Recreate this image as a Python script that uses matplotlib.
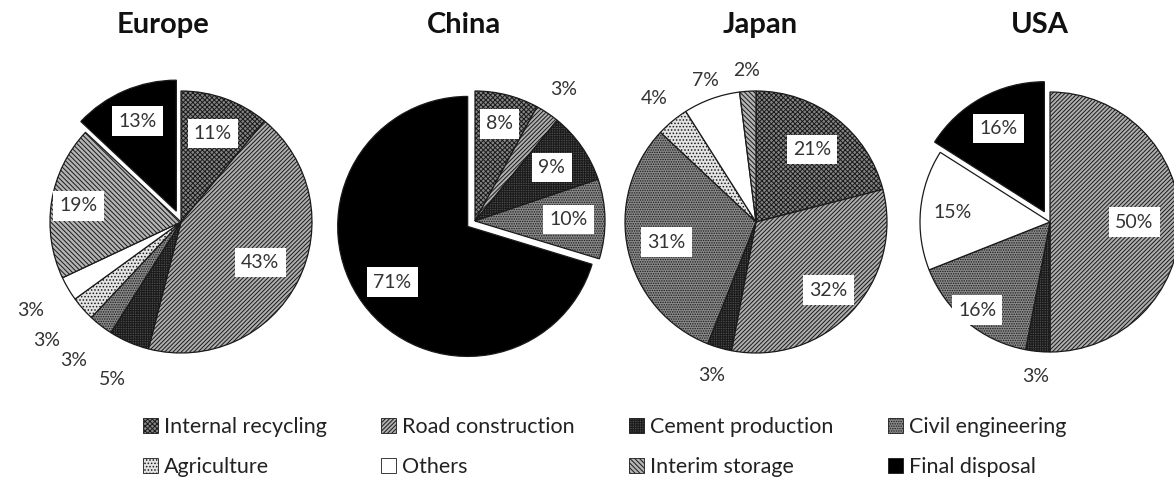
import matplotlib.pyplot as plt
from matplotlib.patches import Patch
import numpy as np

categories = ['Internal recycling', 'Road construction', 'Cement production',
              'Civil engineering', 'Agriculture', 'Others',
              'Interim storage', 'Final disposal']

regions = ['Europe', 'China', 'Japan', 'USA']

# share of each category in %, in category order (0 = not present)
europe = [11, 43, 5, 3, 3, 3, 19, 13]
china = [8, 3, 9, 10, 0, 0, 0, 71]
japan = [21, 32, 3, 31, 4, 7, 2, 0]
usa = [0, 50, 3, 16, 0, 15, 0, 16]

# fill style per category: face, hatch
styles = {
    'Internal recycling': ('#858585', 'xxxxxxx'),
    'Road construction': ('#afafaf', '////////'),
    'Cement production': ('#4a4a4a', '+++++++'),
    'Civil engineering': ('#8a8a8a', '.......'),
    'Agriculture': ('#e4e4e4', '.....'),
    'Others': ('white', ''),
    'Interim storage': ('#b4b4b4', '\\\\\\\\\\\\\\'),
    'Final disposal': ('black', ''),
}

W, H = 1174, 484
plt.rcParams['font.family'] = ['Lato', 'DejaVu Sans']
plt.rcParams['hatch.linewidth'] = 0.7

fig = plt.figure(figsize=(W / 100, H / 100), dpi=100)

# pie layout in pixels: centre x, centre y (from top), radius
layout = {
    'Europe': (181, 222, 131),
    'China': (475, 221, 130),
    'Japan': (756, 222, 131),
    'USA': (1050, 222, 130),
}
explode_amt = {'Europe': 0.09, 'China': 0.07, 'Japan': 0.0, 'USA': 0.09}
title_x = {'Europe': 163, 'China': 464, 'Japan': 760, 'USA': 1040}

# label distance as a fraction of the radius; > 1 means no box
label_dist = {
    'Europe': [0.72, 0.68, 1.31, 1.34, 1.37, 1.33, 0.79, 0.75],
    'China': [0.77, 1.22, 0.72, 0.72, 0, 0, 0, 0.72],
    'Japan': [0.70, 0.76, 1.22, 0.70, 1.22, 1.15, 1.16, 0],
    'USA': [0, 0.65, 1.19, 0.88, 0, 0.75, 0, 0.73],
}

data = {'Europe': europe, 'China': china, 'Japan': japan, 'USA': usa}
h = 180

for region in regions:
    cx, cy, r = layout[region]
    ax = fig.add_axes([(cx - h) / W, 1 - (cy + h) / H, 2 * h / W, 2 * h / H])
    vals = data[region]
    idx = [i for i, v in enumerate(vals) if v > 0]
    sizes = [vals[i] for i in idx]
    explode = [explode_amt[region] if categories[i] == 'Final disposal' else 0
               for i in idx]
    wedges, _ = ax.pie(sizes, startangle=90, counterclock=False,
                       explode=explode, radius=1,
                       wedgeprops=dict(edgecolor='#1a1a1a', linewidth=0.9))
    for w, i in zip(wedges, idx):
        face, hatch = styles[categories[i]]
        w.set_facecolor(face)
        w.set_hatch(hatch)
        ang = np.deg2rad((w.theta1 + w.theta2) / 2)
        d = label_dist[region][i]
        x = w.center[0] + d * np.cos(ang)
        y = w.center[1] + d * np.sin(ang)
        if d < 1:
            ax.text(x, y, f'{vals[i]}%', ha='center', va='center', fontsize=14,
                    color='#333333',
                    bbox=dict(facecolor='white', edgecolor='none', pad=4.5))
        else:
            ax.text(x, y, f'{vals[i]}%', ha='center', va='center', fontsize=14,
                    color='#333333')
    ax.set_xlim(-h / r, h / r)
    ax.set_ylim(-h / r, h / r)
    ax.set_aspect('equal')
    ax.axis('off')
    fig.text(title_x[region] / W, 1 - 25 / H, region, ha='center', va='center',
             fontsize=21, fontweight='bold', color='#111111')

handles = []
for c in categories:
    face, hatch = styles[c]
    handles.append(Patch(facecolor=face, hatch=hatch, edgecolor='#1a1a1a',
                         linewidth=0.6, label=c))
# legend fills column by column, so interleave to get two rows of four
order = [0, 4, 1, 5, 2, 6, 3, 7]
fig.legend([handles[i] for i in order], [categories[i] for i in order],
           ncol=4, loc='center', bbox_to_anchor=(0.515, 1 - 447 / H),
           frameon=False, fontsize=15.5, handlelength=0.7, handleheight=0.7,
           handletextpad=0.3, columnspacing=2.5, labelspacing=0.95,
           labelcolor='#222222')

fig.savefig('out.png', dpi=100, facecolor='white')
